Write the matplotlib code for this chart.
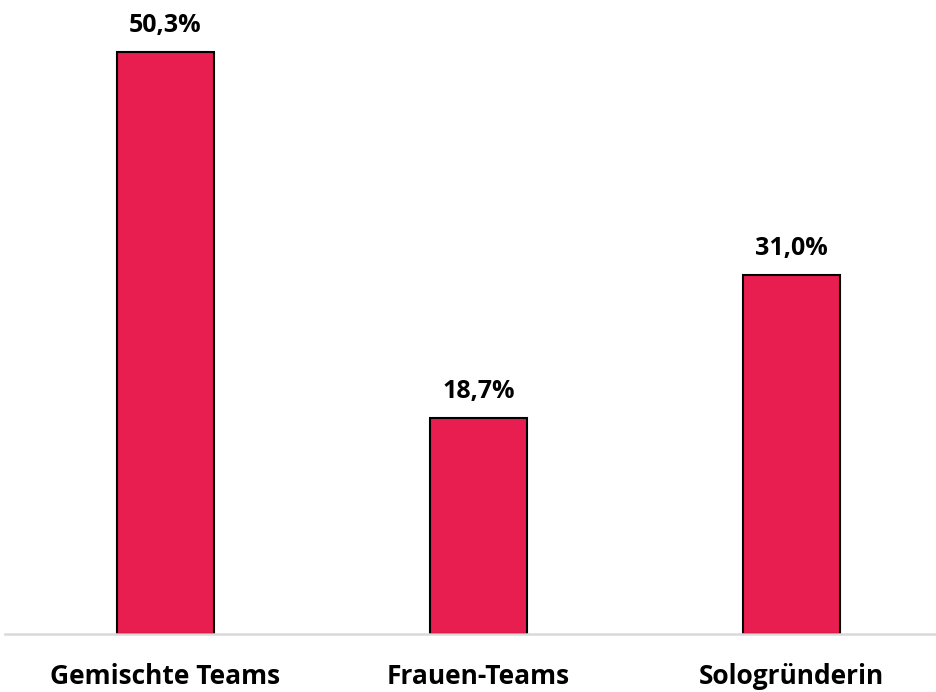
import matplotlib.pyplot as plt

categories = ["Gemischte Teams", "Frauen-Teams", "Sologründerin"]
values = [50.3, 18.7, 31.0]
labels = ["50,3%", "18,7%", "31,0%"]

plt.rcParams['font.family'] = ['Open Sans', 'DejaVu Sans']

fig = plt.figure(figsize=(9.36, 6.92), dpi=100)
ax = fig.add_axes([5 / 936, 1 - 634 / 692, 1 - 5 / 936, 634 / 692])

x = range(len(categories))
bars = ax.bar(x, values, width=0.31, color="#E91E50", edgecolor="black", linewidth=1.5, zorder=2)

for b, lab in zip(bars, labels):
    ax.text(b.get_x() + b.get_width() / 2, b.get_height() + 1.2, lab,
            ha="center", va="bottom", fontsize=18, fontweight="bold")

ax.set_xlim(-0.513, 2.462)
ax.set_ylim(0, 54.8)
ax.set_xticks(list(x))
ax.set_xticklabels(categories, fontsize=19, fontweight="bold")
ax.tick_params(axis="x", length=0, pad=21)
ax.set_yticks([])
for s in ["top", "right", "left"]:
    ax.spines[s].set_visible(False)
ax.spines["bottom"].set_color("#d9d9d9")
ax.spines["bottom"].set_linewidth(1.8)

fig.savefig("out.png", dpi=100)
